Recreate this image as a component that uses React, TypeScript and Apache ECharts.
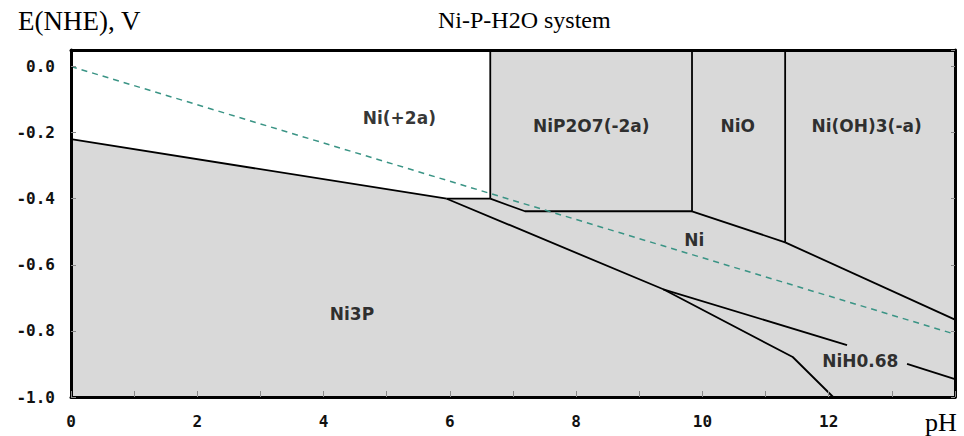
import React, { useEffect, useRef } from "react";
import * as echarts from "echarts";

// ---- axis ranges & ticks ----
const PH_MIN = 0;
const PH_MAX = 14;
const E_MIN = -1.0;
const E_MAX = 0.05;
const xTickValues = [0, 2, 4, 6, 8, 10, 12, 14];
const xTickLabels = ["0", "2", "4", "6", "8", "10", "12", ""];
const yTickValues = [-1.0, -0.8, -0.6, -0.4, -0.2, 0.0];
const yTickLabels = ["-1.0", "-0.8", "-0.6", "-0.4", "-0.2", "0.0"];

// ---- texts ----
const chartTitle = "Ni-P-H2O system";
const yAxisTitle = "E(NHE), V";
const xAxisTitle = "pH";

// ---- white Ni(+2a) domain (pH, E) ----
const regionNi2a: number[][] = [
  [0, 0.05],
  [6.64, 0.05],
  [6.64, -0.4],
  [5.95, -0.4],
  [0, -0.22],
];

// ---- domain boundaries (pH, E) ----
const bNi3PTop: number[][] = [[0, -0.22], [5.95, -0.4]];
const bNi2aBottom: number[][] = [[5.95, -0.4], [6.64, -0.4]];
const bNi2aRight: number[][] = [[6.64, 0.05], [6.64, -0.4]];
const bNiP2O7Bottom: number[][] = [[6.64, -0.4], [7.19, -0.438], [9.835, -0.438]];
const bNiP2O7Right: number[][] = [[9.835, 0.05], [9.835, -0.438]];
const bNiOBottom: number[][] = [[9.835, -0.438], [11.31, -0.532]];
const bNiORight: number[][] = [[11.31, 0.05], [11.31, -0.532]];
const bNiOH3Bottom: number[][] = [[11.31, -0.532], [14, -0.766]];
const bNi3PNi: number[][] = [[5.95, -0.4], [9.38, -0.674], [11.43, -0.879], [12.07, -1.0]];
const bNiH068a: number[][] = [[9.38, -0.674], [12.29, -0.843]];
const bNiH068b: number[][] = [[13.24, -0.9], [14, -0.946]];
const hydrogenLine: number[][] = [[0, 0], [14, -0.81]];

// ---- domain labels ----
const regionLabels = ["Ni(+2a)", "NiP2O7(-2a)", "NiO", "Ni(OH)3(-a)", "Ni", "Ni3P", "NiH0.68"];
const regionLabelPH = [5.2, 8.24, 10.56, 12.6, 9.87, 4.45, 12.5];
const regionLabelE = [-0.157, -0.18, -0.18, -0.18, -0.526, -0.75, -0.891];

const boundaries = [
  bNi3PTop,
  bNi2aBottom,
  bNi2aRight,
  bNiP2O7Bottom,
  bNiP2O7Right,
  bNiOBottom,
  bNiORight,
  bNiOH3Bottom,
  bNi3PNi,
  bNiH068a,
  bNiH068b,
];

const fmt = (vals: number[], labels: string[]) => (v: number) => {
  const i = vals.findIndex((t) => Math.abs(t - v) < 1e-6);
  return i >= 0 ? labels[i] : "";
};

const serif = "'Liberation Serif', 'DejaVu Serif', serif";
const mono = "'DejaVu Sans Mono', monospace";
const sans = "'DejaVu Sans', sans-serif";

export default function App() {
  const ref = useRef<HTMLDivElement>(null);
  useEffect(() => {
    if (!ref.current) return;
    const chart = echarts.init(ref.current, undefined, { renderer: "svg" });
    const axisLineStyle = { color: "#000", width: 3 };
    const tickStyle = { color: "#8a8a8a", width: 1 };
    const series: any[] = [
      {
        type: "custom",
        silent: true,
        z: 1,
        data: [0],
        renderItem: (params: any, api: any) => ({
          type: "polygon",
          shape: { points: regionNi2a.map((p) => api.coord(p)) },
          style: { fill: "#ffffff" },
        }),
      },
      ...boundaries.map((b) => ({
        type: "line",
        data: b,
        showSymbol: false,
        silent: true,
        z: 3,
        lineStyle: { color: "#000", width: 1.8 },
      })),
      {
        type: "line",
        data: hydrogenLine,
        showSymbol: false,
        silent: true,
        z: 4,
        lineStyle: { color: "#3a9485", width: 1.5, type: [6, 5] },
      },
      {
        type: "scatter",
        symbolSize: 0,
        silent: true,
        z: 5,
        data: regionLabels.map((n, i) => ({ name: n, value: [regionLabelPH[i], regionLabelE[i]] })),
        label: {
          show: true,
          position: "inside",
          formatter: "{b}",
          fontFamily: sans,
          fontWeight: "bold",
          fontSize: 17,
          color: "#000",
        },
      },
    ];
    chart.setOption({
      animation: false,
      backgroundColor: "#ffffff",
      title: [
        {
          text: chartTitle,
          left: 438,
          top: 8,
          padding: 0,
          textStyle: { fontFamily: serif, fontSize: 24, fontWeight: "normal", color: "#000" },
        },
        {
          text: yAxisTitle,
          left: 18,
          top: 7,
          padding: 0,
          textStyle: { fontFamily: serif, fontSize: 27, fontWeight: "normal", color: "#000" },
        },
        {
          text: xAxisTitle,
          left: 925,
          top: 409,
          padding: 0,
          textStyle: { fontFamily: serif, fontSize: 26, fontWeight: "normal", color: "#000" },
        },
      ],
      grid: {
        left: 71,
        right: 9,
        top: 50,
        bottom: 39,
        show: true,
        backgroundColor: "#d9d9d9",
        borderWidth: 0,
      },
      xAxis: [
        {
          type: "value",
          min: PH_MIN,
          max: PH_MAX,
          interval: 2,
          position: "bottom",
          z: 10,
          axisLine: { show: true, onZero: false, lineStyle: axisLineStyle },
          axisTick: { show: true, inside: true, length: 6, lineStyle: tickStyle },
          minorTick: { show: true, splitNumber: 2, length: 6, lineStyle: tickStyle },
          splitLine: { show: false },
          axisLabel: {
            margin: 16,
            fontFamily: mono,
            fontWeight: "bold",
            fontSize: 16,
            color: "#111",
            formatter: fmt(xTickValues, xTickLabels),
          },
        },
        {
          type: "value",
          min: PH_MIN,
          max: PH_MAX,
          interval: 2,
          position: "top",
          z: 10,
          axisLine: { show: true, onZero: false, lineStyle: axisLineStyle },
          axisTick: { show: false },
          splitLine: { show: false },
          axisLabel: { show: false },
        },
      ],
      yAxis: [
        {
          type: "value",
          min: E_MIN,
          max: E_MAX,
          interval: 0.2,
          position: "left",
          z: 10,
          axisLine: { show: true, onZero: false, lineStyle: axisLineStyle },
          axisTick: { show: true, inside: true, length: 5, lineStyle: tickStyle },
          splitLine: { show: false },
          axisLabel: {
            margin: 16,
            showMaxLabel: false,
            fontFamily: mono,
            fontWeight: "bold",
            fontSize: 16,
            color: "#111",
            formatter: fmt(yTickValues, yTickLabels),
          },
        },
        {
          type: "value",
          min: E_MIN,
          max: E_MAX,
          interval: 0.2,
          position: "right",
          z: 10,
          axisLine: { show: true, onZero: false, lineStyle: axisLineStyle },
          axisTick: { show: true, inside: true, length: 4, lineStyle: tickStyle },
          splitLine: { show: false },
          axisLabel: { show: false },
        },
      ],
      series,
    });
    return () => chart.dispose();
  }, []);
  return <div ref={ref} style={{ width: 964, height: 436, position: "absolute", left: 0, top: 0 }} />;
}
